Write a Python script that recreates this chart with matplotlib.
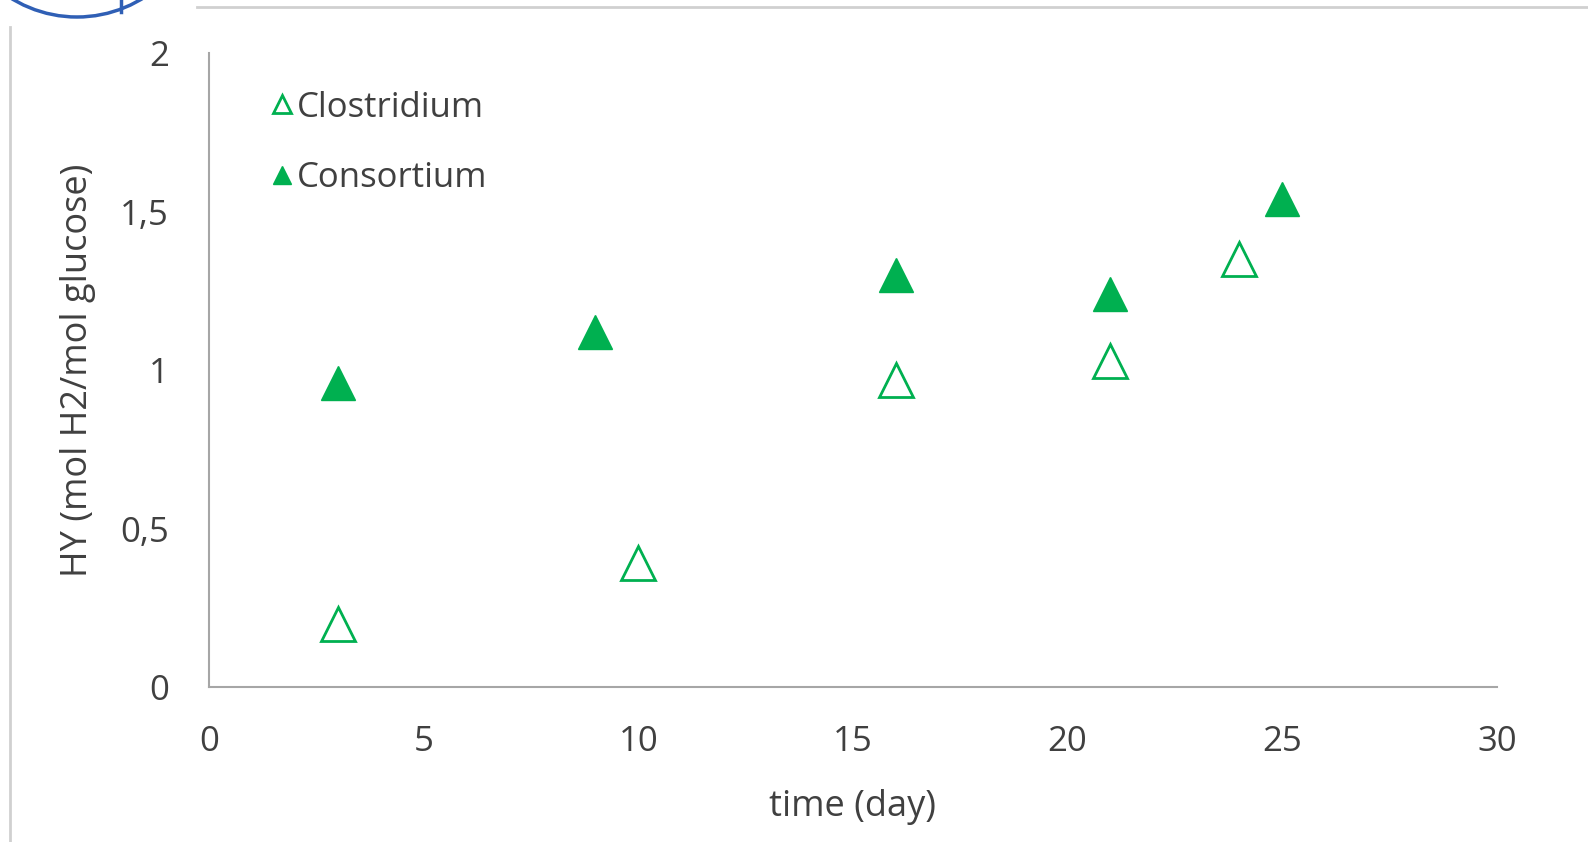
import matplotlib.pyplot as plt
from matplotlib.patches import Circle
from matplotlib.lines import Line2D

# data
clos_day = [3, 10, 16, 21, 24]
clos_hy = [0.20, 0.39, 0.97, 1.03, 1.35]
cons_day = [3, 9, 16, 21, 25]
cons_hy = [0.96, 1.12, 1.30, 1.24, 1.54]
xticks = [0, 5, 10, 15, 20, 25, 30]
yticks = [0, 0.5, 1, 1.5, 2]
ylabels = ['0', '0,5', '1', '1,5', '2']

green = '#00B050'
txt = '#404040'
plt.rcParams['font.family'] = ['Open Sans', 'DejaVu Sans']

fig = plt.figure(figsize=(15.88, 8.42), dpi=100)
ax = fig.add_axes([0.1316, 0.184, 0.811, 0.753])

ax.plot(clos_day, clos_hy, linestyle='none', marker='^', ms=24,
        mfc='white', mec=green, mew=2, label='Clostridium')
ax.plot(cons_day, cons_hy, linestyle='none', marker='^', ms=24,
        mfc=green, mec=green, label='Consortium')

ax.set_xlim(0, 30)
ax.set_ylim(0, 2)
ax.set_xticks(xticks)
ax.set_xticklabels([str(t) for t in xticks])
ax.set_yticks(yticks)
ax.set_yticklabels(ylabels)
ax.tick_params(length=0, labelsize=25, colors=txt)
ax.tick_params(axis='y', pad=29)
ax.tick_params(axis='x', pad=27)
for s in ['top', 'right']:
    ax.spines[s].set_visible(False)
for s in ['left', 'bottom']:
    ax.spines[s].set_color('#a6a6a6')
    ax.spines[s].set_linewidth(1.5)

ax.set_xlabel('time (day)', fontsize=26, color=txt, labelpad=22)
ax.set_ylabel('HY (mol H2/mol glucose)', fontsize=26, color=txt, labelpad=17)

leg = ax.legend(loc='upper left', bbox_to_anchor=(0.02, 0.99), frameon=False,
                fontsize=25, labelspacing=1.05, handletextpad=0.0,
                handlelength=0.9, markerscale=0.55)
for t in leg.get_texts():
    t.set_color(txt)

# screenshot decorations
fig.add_artist(Line2D([0.124, 1.0], [0.992, 0.992], color='#d0d0d0', lw=2,
                      transform=fig.transFigure))
fig.add_artist(Line2D([0.006, 0.006], [0.0, 0.968], color='#d0d0d0', lw=2,
                      transform=fig.transFigure))
fig.add_artist(Circle((77, 950), 125, fill=False, ec='#2f5fb5', lw=2.5,
                      transform=None))
fig.add_artist(Line2D([121, 121], [830, 842], color='#2f5fb5', lw=2.5,
                      transform=None))

fig.savefig('out.png', dpi=100)
